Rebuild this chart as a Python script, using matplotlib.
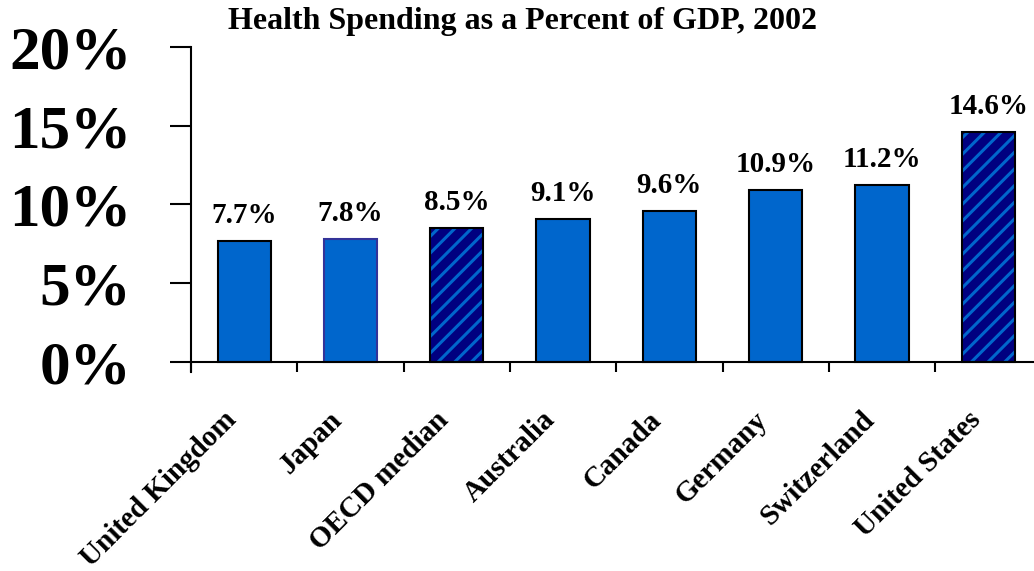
import numpy as np
import matplotlib
matplotlib.use("Agg")
import matplotlib.pyplot as plt

plt.rcParams['font.family'] = ['Liberation Serif', 'DejaVu Serif']
plt.rcParams['font.weight'] = 'bold'
plt.rcParams['hatch.linewidth'] = 2.2

# data
countries = ["United Kingdom", "Japan", "OECD median", "Australia",
             "Canada", "Germany", "Switzerland", "United States"]
spending = [7.7, 7.8, 8.5, 9.1, 9.6, 10.9, 11.2, 14.6]
striped = [False, False, True, False, False, False, False, True]
edges = ["black", "#333399", "black", "black", "black", "black", "black", "black"]

blue = "#0066cc"
navy = "#000080"

fig = plt.figure(figsize=(10.34, 5.71), dpi=100)
ax = fig.add_axes([191/1034, 1-372/571, 1-191/1034, (372-47)/571])

x = np.arange(len(countries))
for i in range(len(countries)):
    if striped[i]:
        # stripes first, then the black outline on top
        ax.bar(x[i], spending[i], width=0.5, color=navy, edgecolor=blue,
               hatch="//", linewidth=0, zorder=2)
        ax.bar(x[i], spending[i], width=0.5, fill=False, edgecolor="black",
               linewidth=1.5, zorder=3)
    else:
        ax.bar(x[i], spending[i], width=0.5, color=blue, edgecolor=edges[i],
               linewidth=1.5, zorder=2)
    ax.annotate("%.1f%%" % spending[i], xy=(x[i], spending[i]),
                xytext=(0, 12), textcoords="offset pixels",
                ha="center", va="bottom", fontsize=21, fontweight="bold")
    ax.annotate(countries[i], xy=(x[i], 0), xytext=(-12, -54),
                textcoords="offset pixels", ha="right", va="center",
                rotation=45, rotation_mode="anchor", fontsize=21,
                fontweight="bold")

ax.set_xlim(-0.5, 7.43)
ax.set_ylim(-0.65, 20)

ax.spines['top'].set_visible(False)
ax.spines['right'].set_visible(False)
ax.spines['bottom'].set_position(('data', 0))
ax.spines['left'].set_linewidth(1.5)
ax.spines['bottom'].set_linewidth(1.5)

ax.set_xticks(np.arange(-0.5, 7.0, 1.0))
ax.set_xticklabels([])
ax.tick_params(axis='x', direction='out', length=7, width=1.5)

ax.set_yticks([0, 5, 10, 15, 20])
ax.set_yticklabels(["0%", "5%", "10%", "15%", "20%"])
ax.tick_params(axis='y', direction='out', length=15, width=1.5,
               labelsize=44, pad=28)

fig.text(523/1034, 1-22/571, "Health Spending as a Percent of GDP, 2002",
         ha="center", va="center", fontsize=23, fontweight="bold")

fig.savefig("out.png", dpi=100)
